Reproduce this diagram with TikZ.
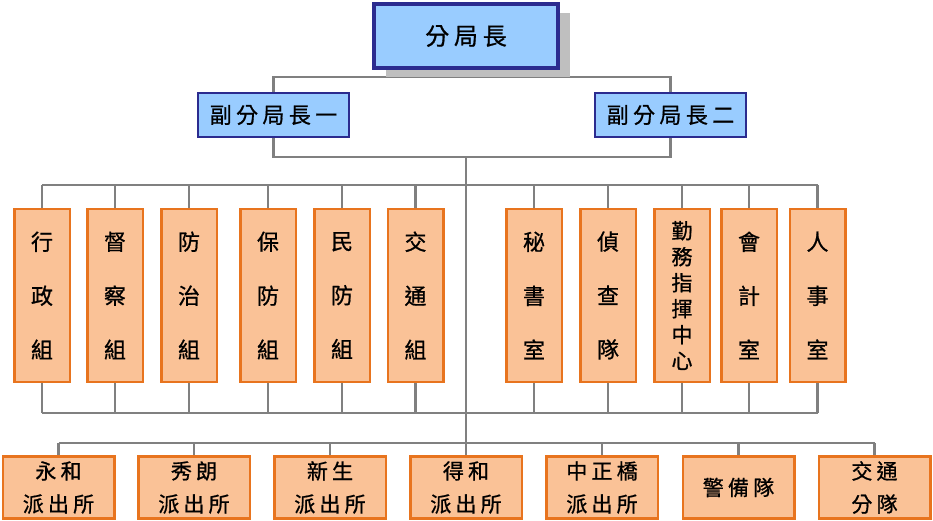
\documentclass[tikz,border=0pt]{standalone}
\usepackage{fontspec}
\usepackage{tikz}
\usetikzlibrary{backgrounds,shadows}
\newfontfamily\cjk[FakeBold=0.8]{Noto Sans CJK TC}
\newfontfamily\cjkwide[LetterSpace=20,FakeBold=0.8]{Noto Sans CJK TC}
\definecolor{ChiefFill}{HTML}{99CCFF}
\definecolor{ChiefLine}{HTML}{2B2B8F}
\definecolor{UnitFill}{HTML}{FAC297}
\definecolor{UnitLine}{HTML}{E8741E}
\definecolor{LinkGrey}{HTML}{808080}

\begin{document}
\begin{tikzpicture}[x=1pt,y=-1pt,
  chief/.style={draw=ChiefLine,line width=4pt,fill=ChiefFill,minimum width=184pt,minimum height=64pt,inner sep=0pt,
    font=\cjkwide\fontsize{24}{28}\selectfont,
    drop shadow={shadow xshift=12pt,shadow yshift=-9pt,fill=black!25,opacity=1}},
  deputy/.style={draw=ChiefLine,line width=2pt,fill=ChiefFill,minimum width=151pt,minimum height=44pt,inner sep=0pt,
    font=\cjkwide\fontsize{22}{26}\selectfont},
  unit/.style={draw=UnitLine,line width=2.5pt,fill=UnitFill,minimum width=55.5pt,minimum height=172.5pt,inner sep=0pt,
    align=center,font=\cjk\fontsize{22}{54}\selectfont},
  station/.style={draw=UnitLine,line width=2.5pt,fill=UnitFill,minimum width=111.5pt,minimum height=62pt,inner sep=0pt,
    align=center,font=\cjkwide\fontsize{21}{33}\selectfont},
  link/.style={draw=LinkGrey,line width=2.5pt}]
  \useasboundingbox (0,0) rectangle (933,521);

  % head and deputies
  \node[chief] (chief) at (466,36) {分局長};
  \node[deputy] (dep1) at (273.5,115) {副分局長一};
  \node[deputy] (dep2) at (670.5,115) {副分局長二};

  % sections
  \node[unit] (g1) at (42,295.5) {行\\政\\組};
  \node[unit] (g2) at (115,295.5) {督\\察\\組};
  \node[unit] (g3) at (189,295.5) {防\\治\\組};
  \node[unit] (g4) at (268,295.5) {保\\防\\組};
  \node[unit] (g5) at (342,295.5) {民\\防\\組};
  \node[unit] (g6) at (415.5,295.5) {交\\通\\組};
  \node[unit] (g7) at (534,295.5) {秘\\書\\室};
  \node[unit] (g8) at (608,295.5) {偵\\查\\隊};
  \node[unit,font=\cjk\fontsize{21}{26}\selectfont] (g9) at (682,295.5) {勤\\務\\指\\揮\\中\\心};
  \node[unit] (g10) at (749,295.5) {會\\計\\室};
  \node[unit] (g11) at (817.5,295.5) {人\\事\\室};

  % stations
  \node[station] (s1) at (58.5,487.5) {永和\\派出所};
  \node[station] (s2) at (194,487.5) {秀朗\\派出所};
  \node[station] (s3) at (330,487.5) {新生\\派出所};
  \node[station] (s4) at (466,487.5) {得和\\派出所};
  \node[station] (s5) at (602,487.5) {中正橋\\派出所};
  \node[station] (s6) at (738.5,487.5) {警備隊};
  \node[station] (s7) at (874.5,487.5) {交通\\分隊};

  \begin{scope}[on background layer]
    \coordinate (topbus) at (466,77);
    \coordinate (midbus) at (466,157);
    \coordinate (rowtop) at (466,185);
    \coordinate (rowbot) at (466,413);
    \coordinate (stnbus) at (466,443);
    \draw[link] (chief.south) -- (topbus);
    \draw[link] (dep1.north) |- (topbus) -| (dep2.north);
    \draw[link] (dep1.south) |- (midbus) -| (dep2.south);
    \draw[link] (midbus) -- (stnbus);
    \draw[link] (g1.north |- rowtop) -- (g11.north |- rowtop);
    \draw[link] (g1.south |- rowbot) -- (g11.south |- rowbot);
    \foreach \g in {g1,g2,g3,g4,g5,g6,g7,g8,g9,g10,g11} {
      \draw[link] (\g.north) -- (\g.north |- rowtop);
      \draw[link] (\g.south) -- (\g.south |- rowbot);
    }
    \draw[link] (s1.north |- stnbus) -- (s7.north |- stnbus);
    \foreach \s in {s1,s2,s3,s4,s5,s6,s7}
      \draw[link] (\s.north) -- (\s.north |- stnbus);
  \end{scope}
\end{tikzpicture}
\end{document}
